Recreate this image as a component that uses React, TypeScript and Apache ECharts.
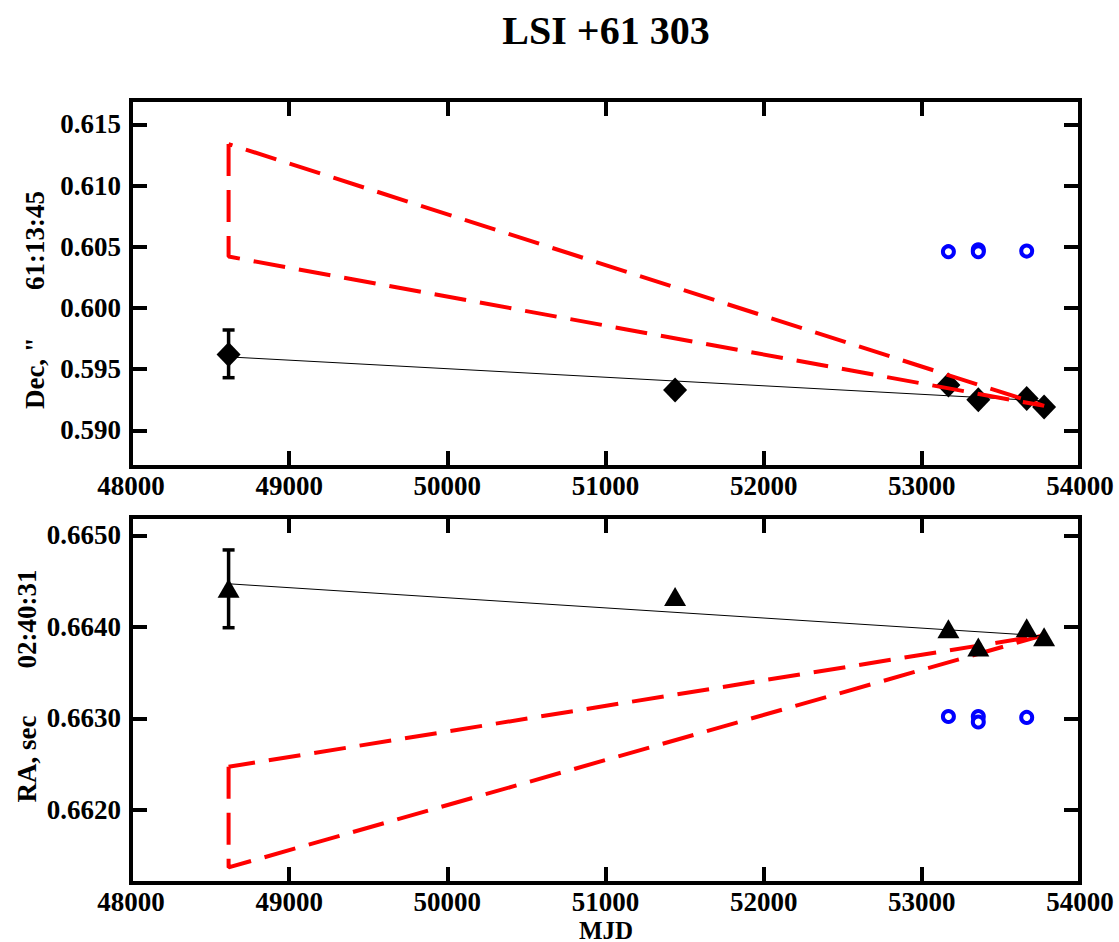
import React, { useEffect, useRef } from "react";
import * as echarts from "echarts";

// ---- Data ----
const xMin = 48000;
const xMax = 54000;

// Top panel: Dec, "  61:13:45
const decTicks = [0.59, 0.595, 0.6, 0.605, 0.61, 0.615];
const decDiamonds = [
  [48617, 0.5962],
  [51440, 0.5933],
  [53168, 0.5937],
  [53357, 0.5925],
  [53663, 0.5926],
  [53773, 0.5919],
];
const decErr = [[48617, 0.5943, 0.5982]];
const decCircles = [
  [53168, 0.6046],
  [53357, 0.60475],
  [53357, 0.6046],
  [53663, 0.60465],
];
const decFit = [
  [48617, 0.596],
  [53773, 0.5924],
];
const decBand = [
  [48617, 0.6134],
  [48617, 0.6042],
  [53773, 0.592],
  [48617, 0.6134],
];

// Bottom panel: RA, sec  02:40:31
const raTicks = [0.662, 0.663, 0.664, 0.665];
const raTriangles = [
  [48617, 0.66442],
  [51440, 0.66433],
  [53168, 0.66398],
  [53357, 0.66378],
  [53663, 0.66399],
  [53773, 0.66389],
];
const raErr = [[48617, 0.66399, 0.66484]];
const raCircles = [
  [53168, 0.66302],
  [53357, 0.66302],
  [53357, 0.66296],
  [53663, 0.66301],
];
const raFit = [
  [48617, 0.66447],
  [53773, 0.6639],
];
const raBand = [
  [48617, 0.66247],
  [48617, 0.66137],
  [53773, 0.66391],
  [48617, 0.66247],
];

const FONT = "'Liberation Serif', 'DejaVu Serif', serif";

export default function App() {
  const ref = useRef<HTMLDivElement>(null);

  useEffect(() => {
    if (!ref.current) return;
    const chart = echarts.init(ref.current, null, { renderer: "svg" });

    const tick = { show: true, inside: true, length: 16, lineStyle: { color: "#000", width: 4 } };
    const labelStyle = { color: "#000", fontFamily: FONT, fontWeight: "bold" as const, fontSize: 27 };

    const xAxisMain = (gridIndex: number) => ({
      type: "value",
      gridIndex,
      min: xMin,
      max: xMax,
      interval: 1000,
      position: "bottom",
      axisLine: { show: false },
      axisTick: tick,
      splitLine: { show: false },
      axisLabel: { ...labelStyle, margin: 8, lineHeight: 22, formatter: (v: number) => String(v) },
    });
    const xAxisTop = (gridIndex: number) => ({
      type: "value",
      gridIndex,
      min: xMin,
      max: xMax,
      interval: 1000,
      position: "top",
      axisLine: { show: false },
      axisTick: tick,
      splitLine: { show: false },
      axisLabel: { show: false },
    });
    const yAxis = (gridIndex: number, min: number, max: number, ticks: number[], dec: number, pos: string) => ({
      type: "value",
      gridIndex,
      min,
      max,
      position: pos,
      axisLine: { show: false },
      axisTick: { ...tick, customValues: ticks },
      splitLine: { show: false },
      axisLabel:
        pos === "left"
          ? { ...labelStyle, margin: 10, customValues: ticks, formatter: (v: number) => v.toFixed(dec) }
          : { show: false },
    });

    const errRender = (params: any, api: any) => {
      const x = api.value(0);
      const lo = api.coord([x, api.value(1)]);
      const hi = api.coord([x, api.value(2)]);
      const cap = 6;
      const st = { stroke: "#000", lineWidth: 3.5 };
      return {
        type: "group",
        children: [
          { type: "line", shape: { x1: lo[0], y1: lo[1], x2: hi[0], y2: hi[1] }, style: st },
          { type: "line", shape: { x1: lo[0] - cap, y1: lo[1], x2: lo[0] + cap, y2: lo[1] }, style: st },
          { type: "line", shape: { x1: hi[0] - cap, y1: hi[1], x2: hi[0] + cap, y2: hi[1] }, style: st },
        ],
      };
    };

    const fitLine = (data: number[][], xi: number, yi: number) => ({
      type: "line",
      xAxisIndex: xi,
      yAxisIndex: yi,
      data,
      symbol: "none",
      lineStyle: { color: "#000", width: 1 },
      z: 3,
    });
    const band = (data: number[][], xi: number, yi: number, z: number) => ({
      type: "line",
      xAxisIndex: xi,
      yAxisIndex: yi,
      data,
      symbol: "none",
      lineStyle: { color: "#ff0000", width: 4, type: [32, 14] },
      z,
    });
    const circles = (data: number[][], xi: number, yi: number) => ({
      type: "scatter",
      xAxisIndex: xi,
      yAxisIndex: yi,
      data,
      symbol: "circle",
      symbolSize: 11,
      itemStyle: { color: "#fff", borderColor: "#0000ff", borderWidth: 4, opacity: 1 },
      z: 4,
    });

    const option: any = {
      animation: false,
      backgroundColor: "#fff",
      grid: [
        { left: 131, right: 39, top: 100, height: 367, show: true, borderColor: "#000", borderWidth: 4, backgroundColor: "transparent" },
        { left: 131, right: 39, top: 517, height: 366, show: true, borderColor: "#000", borderWidth: 4, backgroundColor: "transparent" },
      ],
      xAxis: [xAxisMain(0), xAxisTop(0), xAxisMain(1), xAxisTop(1)],
      yAxis: [
        yAxis(0, 0.587, 0.617, decTicks, 3, "left"),
        yAxis(0, 0.587, 0.617, decTicks, 3, "right"),
        yAxis(1, 0.6612, 0.6652, raTicks, 4, "left"),
        yAxis(1, 0.6612, 0.6652, raTicks, 4, "right"),
      ],
      graphic: [
        {
          type: "text",
          x: 606,
          y: 30,
          style: { text: "LSI +61 303", font: `bold 40px ${FONT}`, fill: "#000", textAlign: "center", textVerticalAlign: "middle" },
        },
        {
          type: "text",
          x: 35,
          y: 300,
          rotation: Math.PI / 2,
          style: { text: 'Dec, "       61:13:45', font: `bold 27px ${FONT}`, fill: "#000", textAlign: "center", textVerticalAlign: "middle" },
        },
        {
          type: "text",
          x: 27,
          y: 686,
          rotation: Math.PI / 2,
          style: { text: "RA, sec       02:40:31", font: `bold 27px ${FONT}`, fill: "#000", textAlign: "center", textVerticalAlign: "middle" },
        },
        {
          type: "text",
          x: 606,
          y: 930,
          style: { text: "MJD", font: `bold 25px ${FONT}`, lineHeight: 20, fill: "#000", textAlign: "center", textVerticalAlign: "middle" },
        },
      ],
      series: [
        // top panel
        fitLine(decFit, 0, 0),
        {
          type: "custom",
          xAxisIndex: 0,
          yAxisIndex: 0,
          data: decErr,
          encode: { x: 0, y: [1, 2] },
          renderItem: errRender,
          z: 3,
        },
        {
          type: "scatter",
          xAxisIndex: 0,
          yAxisIndex: 0,
          data: decDiamonds,
          symbol: "diamond",
          symbolSize: [24, 25],
          itemStyle: { color: "#000", opacity: 1 },
          z: 4,
        },
        circles(decCircles, 0, 0),
        band(decBand, 0, 0, 5),
        // bottom panel
        band(raBand, 2, 2, 2),
        fitLine(raFit, 2, 2),
        {
          type: "custom",
          xAxisIndex: 2,
          yAxisIndex: 2,
          data: raErr,
          encode: { x: 0, y: [1, 2] },
          renderItem: errRender,
          z: 3,
        },
        {
          type: "scatter",
          xAxisIndex: 2,
          yAxisIndex: 2,
          data: raTriangles,
          symbol: "triangle",
          symbolSize: [22, 19],
          itemStyle: { color: "#000", opacity: 1 },
          z: 4,
        },
        circles(raCircles, 2, 2),
      ],
    };

    chart.setOption(option);
    return () => chart.dispose();
  }, []);

  return (
    <div
      ref={ref}
      style={{ position: "fixed", left: 0, top: 0, width: 1119, height: 942, background: "#fff" }}
    />
  );
}
